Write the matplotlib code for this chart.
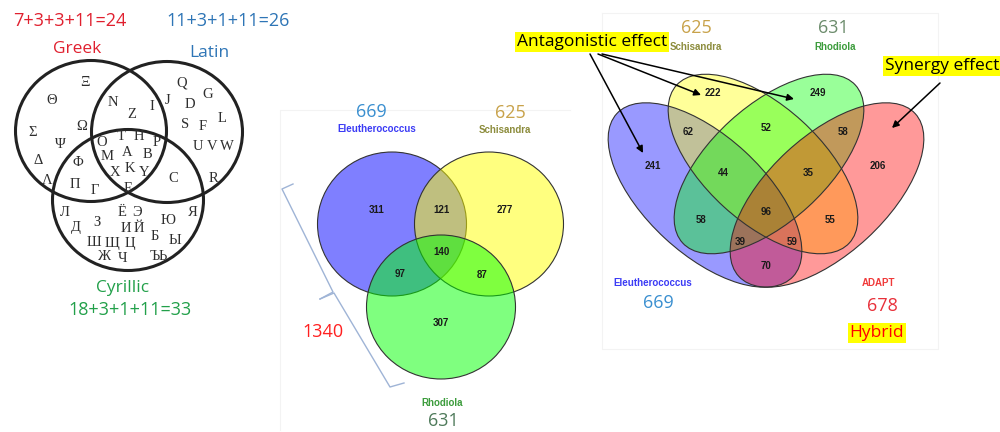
import matplotlib.pyplot as plt
from matplotlib.patches import Ellipse

# --------------------------- DATA -------------------------------
# Left diagram: letters shared by the Greek, Latin and Cyrillic alphabets
greek_only = ['Ξ', 'Θ', 'Σ', 'Ω', 'Ψ', 'Δ', 'Λ']
greek_latin = ['N', 'Z', 'I']
greek_cyr = ['Φ', 'Π', 'Γ']
shared_all = ['O', 'T', 'H', 'P', 'M', 'A', 'B', 'X', 'K', 'Y', 'E']
latin_only = ['Q', 'G', 'J', 'D', 'L', 'S', 'F', 'U', 'V', 'W', 'R']
latin_cyr = ['C']
cyr_only = ['Л', 'Ё', 'Э', 'Я', 'Д', 'З', 'И', 'Й', 'Ю', 'Б', 'Ы',
            'Ш', 'Щ', 'Ц', 'Ж', 'Ч', 'Ъ', 'Ь']
alphabet_names = ['Greek', 'Latin', 'Cyrillic']

# Middle diagram: three herbs
herb3_names = ['Eleutherococcus', 'Schisandra', 'Rhodiola']
herb3_totals = [669, 625, 631]
herb3_regions = ['E', 'S', 'R', 'ES', 'ER', 'SR', 'ESR']
herb3_counts = [311, 277, 307, 121, 97, 87, 140]

# Right diagram: three herbs + ADAPT hybrid
herb4_names = ['Eleutherococcus', 'Schisandra', 'Rhodiola', 'ADAPT']
herb4_totals = [669, 625, 631, 678]
herb4_regions = ['A', 'B', 'C', 'D', 'AB', 'BC', 'CD', 'AC', 'BD', 'AD',
                 'ABC', 'BCD', 'ACD', 'ABD', 'ABCD']
herb4_counts = [241, 222, 249, 206, 62, 52, 58, 58, 55, 70,
                44, 35, 39, 59, 96]

# --------------------------- STYLE -------------------------------
RED = '#e0202f'
BLUE = '#2e75b6'
GREEN = '#22a04a'
NUM_BLUE = '#3a8fd0'
GOLD = '#c8a24a'
BIG_FONT = 'Open Sans'
SMALL_FONT = 'Liberation Sans'

fig = plt.figure(figsize=(10, 4.32), dpi=100)
ax = fig.add_axes([0, 0, 1, 1])
ax.set_xlim(0, 1000)
ax.set_ylim(432, 0)
ax.axis('off')


def big_text(x, y, s, color, size=13, **kw):
    ax.text(x, y, s, color=color, fontsize=size, family=BIG_FONT,
            ha='center', va='center', **kw)


def small_bold(x, y, s, color='#1a1a1a', size=7):
    ax.text(x, y, s, color=color, fontsize=size, family=SMALL_FONT,
            fontweight='bold', ha='center', va='center')


# faint panel frames of the pasted pictures
ax.plot([280, 280, 570], [430, 110, 110], color='#f3f3f3', lw=0.8)
ax.plot([602, 602, 938, 938, 602], [13, 349, 349, 13, 13], color='#f3f3f3', lw=0.8)

# --------------------------- LEFT: alphabets ---------------------------
for c in [(91, 131), (167, 132), (128, 200)]:
    ax.add_patch(Ellipse(c, 151, 141, fill=False, ec='#222222', lw=2.2))

letter_pos = {
    'Ξ': (85, 83), 'Θ': (52, 100), 'Σ': (33, 132), 'Ω': (82, 127), 'Ψ': (60, 145),
    'Δ': (38, 160), 'Λ': (47, 180),
    'N': (113, 103), 'Z': (132, 115), 'I': (152, 107),
    'Φ': (78, 163), 'Π': (75, 185), 'Γ': (95, 190),
    'O': (102, 142), 'T': (121, 137), 'H': (139, 137), 'P': (157, 142),
    'M': (107, 157), 'A': (127, 152), 'B': (147, 155), 'X': (115, 173),
    'K': (130, 168), 'Y': (144, 173), 'E': (128, 188),
    'Q': (182, 83), 'G': (208, 95), 'J': (168, 100), 'D': (190, 105), 'L': (222, 118),
    'S': (185, 125), 'F': (203, 127), 'U': (198, 147), 'V': (212, 147), 'W': (227, 147),
    'R': (213, 178), 'C': (173, 179),
    'Л': (65, 213), 'Ё': (122, 212), 'Э': (137, 212), 'Я': (193, 213), 'Д': (76, 228),
    'З': (97, 223), 'И': (126, 228), 'Й': (139, 228), 'Ю': (168, 220), 'Б': (155, 237),
    'Ы': (175, 240), 'Ш': (94, 243), 'Щ': (112, 243), 'Ц': (130, 243), 'Ж': (105, 257),
    'Ч': (123, 258), 'Ъ': (155, 257), 'Ь': (163, 257),
}
for group in [greek_only, greek_latin, greek_cyr, shared_all, latin_only, latin_cyr, cyr_only]:
    for ch in group:
        x, y = letter_pos[ch]
        ax.text(x, y, ch, family='Liberation Serif', fontsize=10.5, color='#2e2e2e',
                ha='center', va='center')

n_greek = [len(greek_only), len(greek_latin), len(greek_cyr), len(shared_all)]
n_latin = [len(latin_only), len(greek_latin), len(latin_cyr), len(shared_all)]
n_cyr = [len(cyr_only), len(greek_cyr), len(latin_cyr), len(shared_all)]


def sum_text(parts):
    return '+'.join(str(p) for p in parts) + '=' + str(sum(parts))


big_text(70, 21, sum_text(n_greek), RED)
big_text(228, 21, sum_text(n_latin), BLUE)
big_text(77, 49, alphabet_names[0], RED, size=12.5)
big_text(209, 53, alphabet_names[1], BLUE, size=12.5)
big_text(123, 288, alphabet_names[2], GREEN, size=12.5)
big_text(130, 310, sum_text(n_cyr), GREEN)

# --------------------------- MIDDLE: three herbs ---------------------------
for c, col in zip([(392, 224), (489, 224), (441, 307)], ['#0000ff', '#ffff00', '#00ff00']):
    ax.add_patch(Ellipse(c, 149, 144, fc=col, alpha=0.5, ec='none'))
    ax.add_patch(Ellipse(c, 149, 144, fill=False, ec='#333333', lw=0.8))

pos3 = {'E': (377, 210), 'S': (505, 210), 'R': (441, 323), 'ES': (441, 210),
        'ER': (400, 274), 'SR': (482, 275), 'ESR': (441, 252)}
for key, val in zip(herb3_regions, herb3_counts):
    small_bold(*pos3[key], str(val))

big_text(371, 112, str(herb3_totals[0]), NUM_BLUE)
small_bold(377, 129, herb3_names[0], color='#3b3bf5')
big_text(510, 113, str(herb3_totals[1]), GOLD)
small_bold(505, 130, herb3_names[1], color='#8c8c3c')
small_bold(442, 403, herb3_names[2], color='#3c9c3c')
big_text(443, 421, str(herb3_totals[2]), '#4e7a5a')

# tilted brace around the union count
ax.plot([293, 282, 333, 320], [184, 189, 292, 299], color='#9fb4d6', lw=1)
ax.plot([320, 334, 390, 404], [299, 293, 387, 383], color='#9fb4d6', lw=1)
big_text(323, 332, str(sum(herb3_counts)), '#ff2020')

# --------------------------- RIGHT: four sets ---------------------------
ell4 = [((705, 195), 240, 118, 42.7, '#0000ff'),
        ((763, 164), 234, 116, 42.4, '#ffff00'),
        ((769, 164), 234, 116, -42.4, '#00ff00'),
        ((827, 195), 240, 118, -42.7, '#ff0000')]
for c, w, h, ang, col in ell4:
    ax.add_patch(Ellipse(c, w, h, angle=ang, fc=col, alpha=0.4, ec='none'))
for c, w, h, ang, col in ell4:
    ax.add_patch(Ellipse(c, w, h, angle=ang, fill=False, ec='#333333', lw=0.8))

pos4 = {'A': (653, 166), 'B': (713, 93), 'C': (818, 93), 'D': (878, 166),
        'AB': (688, 132), 'BC': (766, 128), 'CD': (843, 132), 'AC': (701, 220),
        'BD': (830, 220), 'AD': (766, 266), 'ABC': (723, 173), 'BCD': (808, 173),
        'ACD': (740, 242), 'ABD': (792, 242), 'ABCD': (766, 212)}
for key, val in zip(herb4_regions, herb4_counts):
    small_bold(*pos4[key], str(val))

small_bold(653, 283, herb4_names[0], color='#3b3bf5')
big_text(658, 303, str(herb4_totals[0]), NUM_BLUE)
big_text(696, 28, str(herb4_totals[1]), GOLD)
small_bold(696, 47, herb4_names[1], color='#8c8c3c')
big_text(833, 28, str(herb4_totals[2]), '#6c8c6c')
small_bold(835, 47, herb4_names[2], color='#3c9c3c')
small_bold(878, 283, herb4_names[3], color='#f03a3a')
big_text(882, 306, str(herb4_totals[3]), '#e8303a')

hl = dict(boxstyle='square,pad=0.12', fc='#ffff00', ec='none')
big_text(877, 333, 'Hybrid', '#ff0000', size=12.5, bbox=hl)
big_text(592, 42, 'Antagonistic effect', 'black', size=12.5, bbox=hl)
big_text(942, 66, 'Synergy effect', 'black', size=12.5, bbox=hl)

arrow = dict(arrowstyle='-|>', color='black', lw=1.1, mutation_scale=10,
             shrinkA=0, shrinkB=0)
for start, end in [((590, 54), (643, 153)), ((598, 54), (701, 95)),
                   ((602, 54), (794, 99)), ((940, 83), (892, 128))]:
    ax.annotate('', xy=end, xytext=start, arrowprops=arrow)

fig.savefig('out.png', dpi=100)
